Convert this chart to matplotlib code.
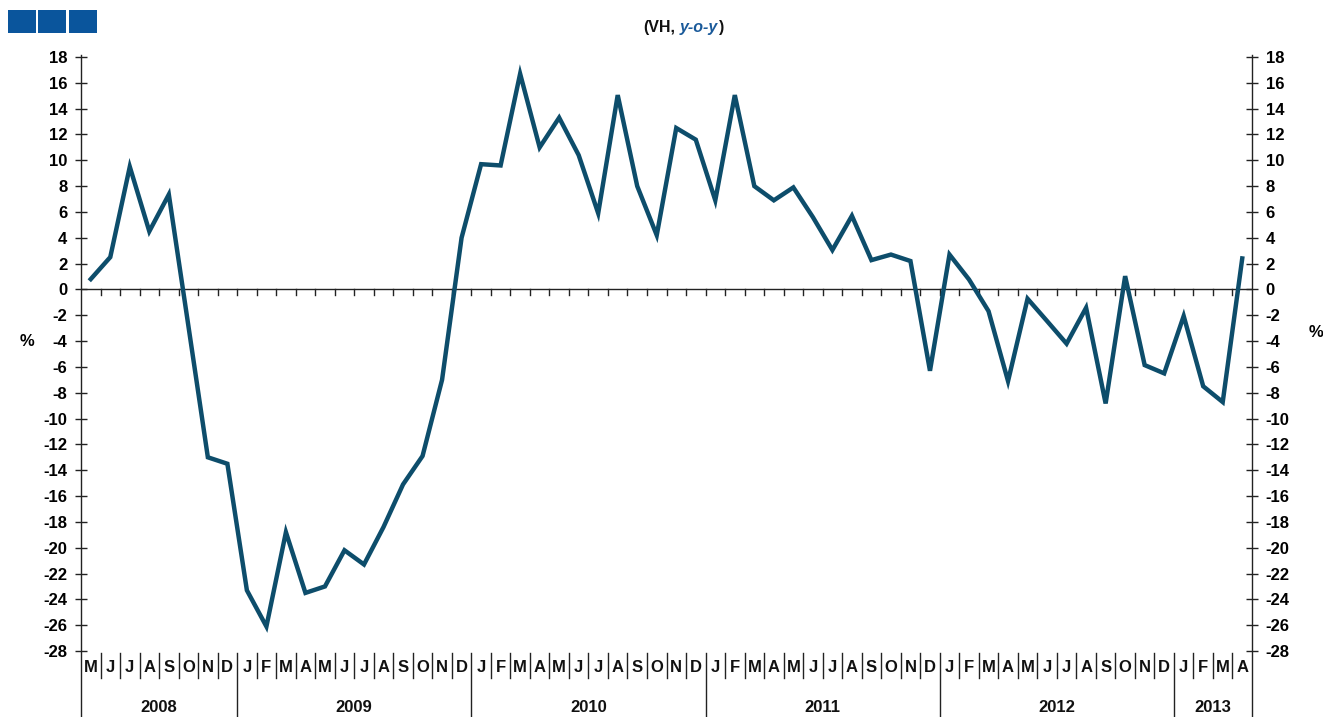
import matplotlib
matplotlib.use("Agg")
import matplotlib.pyplot as plt
import matplotlib.transforms as mtransforms
from matplotlib.patches import Rectangle

plt.rcParams['font.family'] = ['Liberation Sans', 'DejaVu Sans']
plt.rcParams['axes.unicode_minus'] = False

# ---- data ----
years = ["2008", "2009", "2010", "2011", "2012", "2013"]
year_months = [
    ["M", "J", "J", "A", "S", "O", "N", "D"],
    ["J", "F", "M", "A", "M", "J", "J", "A", "S", "O", "N", "D"],
    ["J", "F", "M", "A", "M", "J", "J", "A", "S", "O", "N", "D"],
    ["J", "F", "M", "A", "M", "J", "J", "A", "S", "O", "N", "D"],
    ["J", "F", "M", "A", "M", "J", "J", "A", "S", "O", "N", "D"],
    ["J", "F", "M", "A"],
]
values_2008 = [0.8, 2.5, 9.5, 4.5, 7.35, -2.8, -13.0, -13.5]
values_2009 = [-23.3, -26.1, -18.8, -23.5, -23.0, -20.2, -21.3, -18.4, -15.1, -12.9, -7.0, 4.0]
values_2010 = [9.7, 9.6, 16.7, 11.0, 13.3, 10.4, 5.9, 15.05, 8.0, 4.2, 12.5, 11.6]
values_2011 = [6.9, 15.05, 8.0, 6.9, 7.9, 5.6, 3.05, 5.7, 2.27, 2.7, 2.2, -6.3]
values_2012 = [2.7, 0.77, -1.68, -7.1, -0.72, -2.45, -4.2, -1.42, -8.83, 1.03, -5.86, -6.5]
values_2013 = [-2.06, -7.5, -8.72, 2.4]
yticks = list(range(-28, 19, 2))

values = values_2008 + values_2009 + values_2010 + values_2011 + values_2012 + values_2013
month_labels = [m for ms in year_months for m in ms]
n = len(values)
x = list(range(n))

W, H = 1323, 717
fig = plt.figure(figsize=(W / 100, H / 100), dpi=100)
ax_l, ax_r, ax_t, ax_b = 81, 1252, 57, 651
ax = fig.add_axes([ax_l / W, 1 - ax_b / H, (ax_r - ax_l) / W, (ax_b - ax_t) / H])
ax.set_xlim(-0.5, n - 0.5)
ax.set_ylim(-28, 18)

line_col = '#0d4d6b'
ax.plot(x, values, color=line_col, lw=3.2, solid_joinstyle='miter', zorder=3)

# zero line with small month ticks
ax.axhline(0, color='#222222', lw=1.0, zorder=2)
for k in range(1, n):
    ax.plot([k - 0.5, k - 0.5], [0, -0.45], color='#222222', lw=1.0, zorder=2)

for s in ['top', 'bottom', 'left', 'right']:
    ax.spines[s].set_visible(False)

axh = ax_b - ax_t
bt = mtransforms.blended_transform_factory(ax.transData, ax.transAxes)
# vertical axis lines extending to the bottom
for xb in [-0.5, n - 0.5]:
    ax.plot([xb, xb], [-(H - ax_b) / axh, 1 + 2 / axh], transform=bt, color='#222222',
            lw=1.0, clip_on=False)

ax.set_yticks(yticks)
ax.tick_params(axis='y', direction='inout', length=8.6, width=1.0, color='#222222',
               labelsize=12, pad=5.5, left=True, right=True, labelleft=True, labelright=True)
for lab in ax.get_yticklabels() + ax.get_yticklabels(which='major'):
    lab.set_fontweight('bold')
for lab in ax.yaxis.get_ticklabels():
    lab.set_fontweight('bold')
for t in ax.yaxis.get_major_ticks():
    t.label2.set_fontweight('bold')
ax.set_xticks([])

# month separators and labels
pos = 0
for yi, (yr, ms) in enumerate(zip(years, year_months)):
    for j, m in enumerate(ms):
        k = pos + j
        ax.text(k, -16 / axh, m, transform=bt, ha='center', va='center',
                fontsize=12, fontweight='bold', color='#111111')
        if j > 0:
            ax.plot([k - 0.5, k - 0.5], [-2 / axh, -27 / axh], transform=bt,
                    color='#222222', lw=1.0, clip_on=False)
    if yi > 0:
        ax.plot([pos - 0.5, pos - 0.5], [-2 / axh, -(H - ax_b) / axh], transform=bt,
                color='#222222', lw=1.0, clip_on=False)
    ax.text(pos + (len(ms) - 1) / 2, -57 / axh, yr, transform=bt, ha='center',
            va='center', fontsize=12, fontweight='bold', color='#111111')
    pos += len(ms)

# % labels
fig.text(27 / W, 1 - 341 / H, '%', ha='center', va='center', fontsize=12, fontweight='bold')
fig.text(1316 / W, 1 - 333 / H, '%', ha='center', va='center', fontsize=12, fontweight='bold')

# title with mixed styles
t1 = fig.text(643 / W, 1 - 32 / H, '(VH,', ha='left', va='baseline', fontsize=11.5,
              fontweight='bold', color='#111111')
t2 = fig.text(0, 0, 'y-o-y', fontsize=11.5, fontweight='bold', style='italic', color='#1a5a9a')
t3 = fig.text(0, 0, ')', fontsize=11.5, fontweight='bold', color='#111111')
fig.canvas.draw()
r = fig.canvas.get_renderer()
bb1 = t1.get_window_extent(r)
t2.set_position(((bb1.x1 + 5) / W, 1 - 32 / H))
t2.set_va('baseline')
fig.canvas.draw()
bb2 = t2.get_window_extent(r)
t3.set_position(((bb2.x1 + 0.5) / W, 1 - 32 / H))
t3.set_va('baseline')

# logo squares
for xs in [8, 38, 69]:
    fig.add_artist(Rectangle((xs / W, 1 - 33 / H), 28 / W, 23 / H, transform=fig.transFigure,
                             facecolor='#0a559c', edgecolor='none'))

fig.savefig('out.png', dpi=100)
